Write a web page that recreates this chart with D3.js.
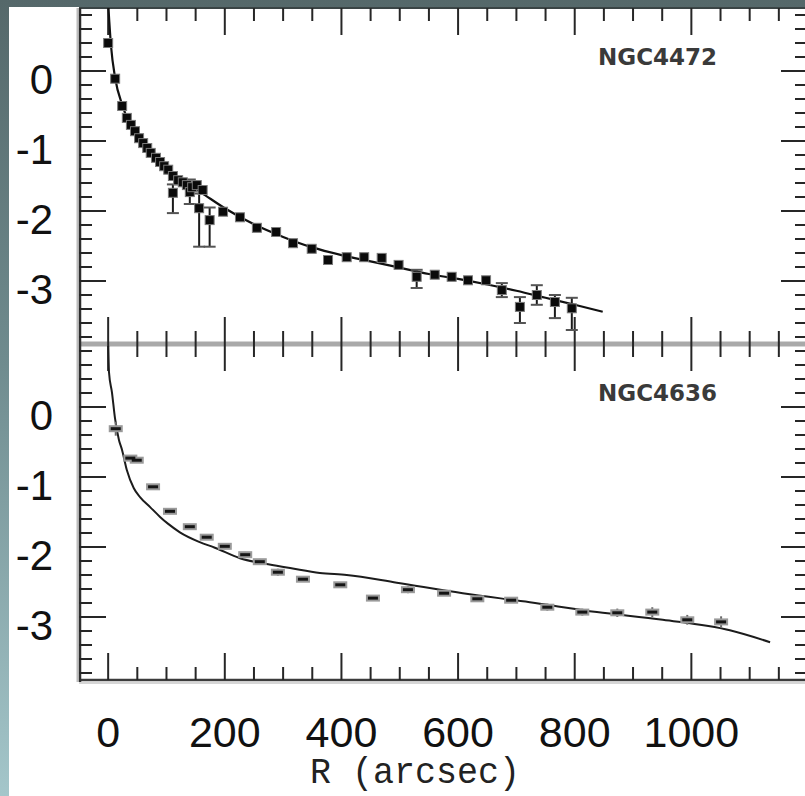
<!DOCTYPE html>
<html>
<head>
<meta charset="utf-8">
<script src="https://cdn.jsdelivr.net/npm/d3@7"></script>
<style>
  html, body { margin: 0; padding: 0; background: #fff; }
  svg { display: block; }
</style>
</head>
<body>
<svg id="chart" width="805" height="796"></svg>
<script>
// ---- NGC4472: log surface density vs radius (arcsec), with error bars ----
const r4472  = [0, 12, 24, 32, 39, 46, 53, 60, 67, 73, 82, 89, 96, 103, 111, 111, 120, 128, 135, 140, 144, 152, 156, 162, 174,
                197, 226, 255, 288, 317, 349, 377, 409, 439, 469, 498, 529, 560, 589, 617, 648, 675, 706, 735, 766, 795];
const mu4472 = [0.40, -0.11, -0.50, -0.67, -0.77, -0.86, -0.96, -1.03, -1.10, -1.17, -1.24, -1.30, -1.36, -1.41, -1.50, -1.74,
                -1.56, -1.59, -1.63, -1.73, -1.66, -1.63, -1.96, -1.70, -2.13,
                -2.01, -2.09, -2.24, -2.30, -2.46, -2.54, -2.70, -2.66, -2.66, -2.67, -2.77, -2.94, -2.91, -2.94, -2.99, -2.99,
                -3.13, -3.37, -3.20, -3.30, -3.39];
// error-bar ends (null where the bar is hidden by the marker)
const errLo4472 = [null, null, null, null, null, null, null, null, null, null, null, null, null, null, null, -2.03,
                   null, null, null, -1.90, null, null, -2.51, null, -2.51,
                   null, null, null, null, null, null, null, null, null, null, null, -3.10, null, null, null, null,
                   -3.23, -3.60, -3.34, -3.53, -3.70];
const errHi4472 = [null, null, null, null, null, null, null, null, null, null, null, null, null, null, null, -1.62,
                   null, null, null, -1.55, null, null, -1.75, null, -1.95,
                   null, null, null, null, null, null, null, null, null, null, null, -2.84, null, null, null, null,
                   -3.03, -3.23, -3.06, -3.20, -3.24];
// model profile for NGC4472
const fitR4472  = [0.5, 2, 5, 12, 24, 35, 50, 70, 100, 130, 160, 200, 250, 300, 350, 400, 450, 500, 550, 600, 650, 700, 750, 800, 848];
const fitMu4472 = [0.9, 0.7, 0.35, -0.10, -0.48, -0.72, -0.92, -1.13, -1.39, -1.58, -1.74, -1.96, -2.19, -2.37, -2.52, -2.63,
                   -2.72, -2.81, -2.90, -2.97, -3.05, -3.14, -3.24, -3.34, -3.44];

// ---- NGC4636 ----
const r4636   = [13, 38, 49, 77, 106, 140, 169, 200, 235, 260, 291, 334, 398, 454, 514, 576, 633, 691, 753, 813, 873, 933, 993, 1051];
const mu4636  = [-0.31, -0.73, -0.76, -1.14, -1.49, -1.71, -1.86, -1.99, -2.11, -2.21, -2.36, -2.46, -2.54, -2.73, -2.61, -2.66,
                 -2.74, -2.76, -2.86, -2.93, -2.94, -2.93, -3.04, -3.07];
const err4636 = [0.10, 0.03, 0.04, 0.04, 0.04, 0.04, 0.04, 0.04, 0.04, 0.04, 0.05, 0.04, 0.04, 0.04, 0.05, 0.04,
                 0.04, 0.04, 0.05, 0.05, 0.06, 0.07, 0.07, 0.08];
const fitR4636  = [0, 1.4, 6.5, 11.7, 18.5, 23.7, 32, 44, 55, 72, 89, 103, 123, 157, 183, 226, 269, 312, 363, 409, 495, 608, 723, 838, 951, 1066, 1135];
const fitMu4636 = [0.90, 0.50, 0.21, -0.16, -0.47, -0.61, -0.90, -1.16, -1.29, -1.43, -1.57, -1.67, -1.79, -1.93, -2.01, -2.16,
                   -2.24, -2.30, -2.37, -2.40, -2.51, -2.66, -2.79, -2.93, -3.04, -3.19, -3.36];

// ---- tick labels ----
const xTickValues = [0, 200, 400, 600, 800, 1000];
const xTickLabels = ["0", "200", "400", "600", "800", "1000"];
const yTickValues = [0, -1, -2, -3];
const yTickLabels = ["0", "-1", "-2", "-3"];
const panelNames  = ["NGC4472", "NGC4636"];
const xTitle = "R (arcsec)";

const svg = d3.select("#chart");
const W = 805, H = 796;

// slide-style backdrop behind the figure
const defs = svg.append("defs");
const grad = defs.append("linearGradient").attr("id", "bg").attr("x1", 0).attr("y1", 0).attr("x2", 0).attr("y2", 1);
grad.append("stop").attr("offset", "0%").attr("stop-color", "#55686a");
grad.append("stop").attr("offset", "45%").attr("stop-color", "#6f8b8e");
grad.append("stop").attr("offset", "100%").attr("stop-color", "#a4c6ca");
svg.append("rect").attr("width", W).attr("height", H).attr("fill", "url(#bg)");
svg.append("rect").attr("x", 9).attr("y", 7).attr("width", W).attr("height", H).attr("fill", "#fff");

const left = 79, right = 808;
const x = d3.scaleLinear().domain([-50, 1200]).range([left, right]);

const panels = [
  { name: panelNames[0], top: 8,   bottom: 344 },
  { name: panelNames[1], top: 344, bottom: 680 }
];
panels.forEach(p => { p.y = d3.scaleLinear().domain([-3.9, 0.9]).range([p.bottom, p.top]); });

const tickColor = "#262626";
const minorLen = 13, majorLen = 27;
const xMinor = d3.range(50, 1200, 50).filter(v => v % 200 !== 0);
const xMajor = d3.range(0, 1200, 200);
const yMinor = d3.range(-38, 9, 2).map(v => v / 10).filter(v => Math.abs(v - Math.round(v)) > 1e-6);
const yMajor = yTickValues;

// ---- frames ----
const frame = svg.append("g");
frame.append("line").attr("x1", left).attr("x2", right).attr("y1", 8).attr("y2", 8)
  .attr("stroke", "#3a4445").attr("stroke-width", 2);
frame.append("line").attr("x1", left).attr("x2", right).attr("y1", 344).attr("y2", 344)
  .attr("stroke", "#a9a9a9").attr("stroke-width", 5);
frame.append("line").attr("x1", left).attr("x2", right).attr("y1", 683).attr("y2", 683)
  .attr("stroke", "#d6d6d6").attr("stroke-width", 2);
frame.append("line").attr("x1", left).attr("x2", right).attr("y1", 680).attr("y2", 680)
  .attr("stroke", "#3c3c3c").attr("stroke-width", 2.5);
frame.append("line").attr("x1", left - 1.5).attr("x2", left - 1.5).attr("y1", 8).attr("y2", 682)
  .attr("stroke", "#bdbdbd").attr("stroke-width", 2);
frame.append("line").attr("x1", left + 1).attr("x2", left + 1).attr("y1", 8).attr("y2", 682)
  .attr("stroke", "#2e2e2e").attr("stroke-width", 2.5);
frame.append("line").attr("x1", right).attr("x2", right).attr("y1", 8).attr("y2", 680)
  .attr("stroke", "#2e2e2e").attr("stroke-width", 2.5);

// ---- ticks ----
panels.forEach(p => {
  const g = svg.append("g");
  const xt = xMinor.map(v => ({ v, len: minorLen })).concat(xMajor.map(v => ({ v, len: majorLen })));
  g.selectAll(".xtTop").data(xt).join("line")
    .attr("x1", d => x(d.v)).attr("x2", d => x(d.v))
    .attr("y1", p.top).attr("y2", d => p.top + d.len)
    .attr("stroke", tickColor).attr("stroke-width", 2);
  g.selectAll(".xtBot").data(xt).join("line")
    .attr("x1", d => x(d.v)).attr("x2", d => x(d.v))
    .attr("y1", p.bottom).attr("y2", d => p.bottom - d.len)
    .attr("stroke", tickColor).attr("stroke-width", 2);
  const yt = yMinor.map(v => ({ v, len: minorLen })).concat(yMajor.map(v => ({ v, len: majorLen })));
  g.selectAll(".ytL").data(yt).join("line")
    .attr("x1", left).attr("x2", d => left + d.len)
    .attr("y1", d => p.y(d.v)).attr("y2", d => p.y(d.v))
    .attr("stroke", tickColor).attr("stroke-width", 2);
  g.selectAll(".ytR").data(yt).join("line")
    .attr("x1", right).attr("x2", d => right - d.len)
    .attr("y1", d => p.y(d.v)).attr("y2", d => p.y(d.v))
    .attr("stroke", tickColor).attr("stroke-width", 2);

  // y tick labels
  g.selectAll(".yl").data(yTickValues).join("text")
    .attr("x", 53).attr("y", d => p.y(d) + 23)
    .attr("text-anchor", "end")
    .attr("font-family", "'Liberation Sans', Arial, sans-serif")
    .attr("font-size", 42).attr("fill", "#111")
    .text((d, i) => yTickLabels[i]);

  // panel name
  g.append("text")
    .attr("x", x(840)).attr("y", p.top + 57)
    .attr("font-family", "'DejaVu Sans', sans-serif").attr("font-weight", "bold")
    .attr("font-size", 23).attr("fill", "#3a3a3a")
    .text(p.name);
});

// ---- x tick labels and title ----
svg.append("g").selectAll("text").data(xTickValues).join("text")
  .attr("x", d => x(d)).attr("y", 747)
  .attr("text-anchor", "middle")
  .attr("font-family", "'Liberation Sans', Arial, sans-serif")
  .attr("font-size", 43).attr("fill", "#111")
  .text((d, i) => xTickLabels[i]);
svg.append("text")
  .attr("x", 310).attr("y", 783)
  .attr("textLength", 210).attr("lengthAdjust", "spacingAndGlyphs")
  .attr("font-family", "'Liberation Mono', 'Courier New', monospace")
  .attr("font-size", 36).attr("fill", "#222")
  .text(xTitle);

// ---- top panel: NGC4472 ----
const pT = panels[0];
const clipT = defs.append("clipPath").attr("id", "clipT");
clipT.append("rect").attr("x", left).attr("y", pT.top).attr("width", right - left).attr("height", pT.bottom - pT.top);
const gT = svg.append("g").attr("clip-path", "url(#clipT)");
const lineT = d3.line().x(d => x(d[0])).y(d => pT.y(d[1])).curve(d3.curveMonotoneX);
gT.append("path").datum(fitR4472.map((r, i) => [r, fitMu4472[i]]))
  .attr("d", lineT).attr("fill", "none").attr("stroke", "#111").attr("stroke-width", 2.2);

const ptsT = r4472.map((r, i) => ({ r, m: mu4472[i], lo: errLo4472[i], hi: errHi4472[i] }));
const errT = ptsT.filter(d => d.lo !== null);
gT.selectAll(".eb").data(errT).join("line")
  .attr("x1", d => x(d.r)).attr("x2", d => x(d.r))
  .attr("y1", d => pT.y(d.hi)).attr("y2", d => pT.y(d.lo))
  .attr("stroke", "#1a1a1a").attr("stroke-width", 2);
gT.selectAll(".capLo").data(errT).join("line")
  .attr("x1", d => x(d.r) - 6).attr("x2", d => x(d.r) + 6)
  .attr("y1", d => pT.y(d.lo)).attr("y2", d => pT.y(d.lo))
  .attr("stroke", "#555").attr("stroke-width", 2);
gT.selectAll(".capHi").data(errT).join("line")
  .attr("x1", d => x(d.r) - 6).attr("x2", d => x(d.r) + 6)
  .attr("y1", d => pT.y(d.hi)).attr("y2", d => pT.y(d.hi))
  .attr("stroke", "#555").attr("stroke-width", 2);
gT.selectAll(".pt").data(ptsT).join("rect")
  .attr("x", d => x(d.r) - 4.5).attr("y", d => pT.y(d.m) - 4.5)
  .attr("width", 9).attr("height", 9)
  .attr("fill", "#0a0a0a").attr("stroke", "#7a7a7a").attr("stroke-width", 1);

// ---- bottom panel: NGC4636 ----
const pB = panels[1];
const clipB = defs.append("clipPath").attr("id", "clipB");
clipB.append("rect").attr("x", left).attr("y", pB.top + 2).attr("width", right - left).attr("height", pB.bottom - pB.top - 2);
const gB = svg.append("g").attr("clip-path", "url(#clipB)");
const lineB = d3.line().x(d => x(d[0])).y(d => pB.y(d[1])).curve(d3.curveMonotoneX);
gB.append("path").datum(fitR4636.map((r, i) => [r, fitMu4636[i]]))
  .attr("d", lineB).attr("fill", "none").attr("stroke", "#1c1c1c").attr("stroke-width", 2);

const ptsB = r4636.map((r, i) => ({ r, m: mu4636[i], e: err4636[i] }));
gB.selectAll(".ebB").data(ptsB).join("line")
  .attr("x1", d => x(d.r)).attr("x2", d => x(d.r))
  .attr("y1", d => pB.y(d.m + d.e)).attr("y2", d => pB.y(d.m - d.e))
  .attr("stroke", "#6a6a6a").attr("stroke-width", 2);
gB.selectAll(".mk").data(ptsB).join("rect")
  .attr("x", d => x(d.r) - 7).attr("y", d => pB.y(d.m) - 3.5)
  .attr("width", 14).attr("height", 7)
  .attr("fill", "#9a9a9a");
gB.selectAll(".mkc").data(ptsB).join("rect")
  .attr("x", d => x(d.r) - 5).attr("y", d => pB.y(d.m) - 1.5)
  .attr("width", 10).attr("height", 3)
  .attr("fill", "#151515");
</script>
</body>
</html>
